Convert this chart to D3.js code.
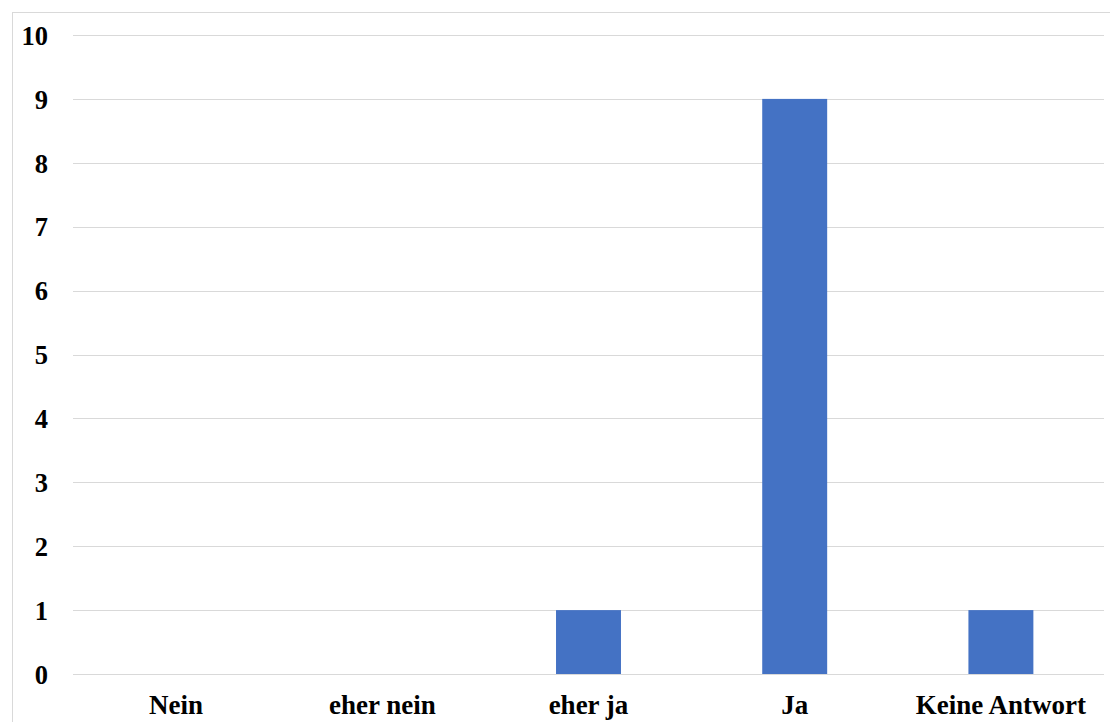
<!DOCTYPE html>
<html>
<head>
<meta charset="utf-8">
<script src="https://cdn.jsdelivr.net/npm/d3@7"></script>
<style>
  body { margin: 0; background: #fff; }
  svg { display: block; }
</style>
</head>
<body>
<svg id="chart"></svg>
<script>
let width = 1110;
let height = 722;

// Daten
let categories = ["Nein", "eher nein", "eher ja", "Ja", "Keine Antwort"];
let values = [0, 0, 1, 9, 1];
let yTicks = [0, 1, 2, 3, 4, 5, 6, 7, 8, 9, 10];

let svg = d3.select("#chart").attr("width", width).attr("height", height);

// Rahmen des Diagrammbereichs
svg.append("rect")
  .attr("x", 12.5)
  .attr("y", 12.5)
  .attr("width", width + 10)
  .attr("height", height + 10)
  .attr("fill", "#fff")
  .attr("stroke", "#d9d9d9")
  .attr("stroke-width", 1);

let plotLeft = 73, plotRight = 1104, plotTop = 35, plotBottom = 674;

let x = d3.scaleBand()
  .domain(categories)
  .range([plotLeft, plotRight])
  .paddingInner(0.685)
  .paddingOuter(0.3425);

let y = d3.scaleLinear()
  .domain([0, 10])
  .range([plotBottom, plotTop]);

// Gitterlinien
svg.append("g")
  .attr("class", "grid")
  .selectAll("line")
  .data(yTicks)
  .enter().append("line")
  .attr("x1", plotLeft)
  .attr("x2", plotRight)
  .attr("y1", d => Math.round(y(d)) + 0.5)
  .attr("y2", d => Math.round(y(d)) + 0.5)
  .attr("stroke", "#d9d9d9")
  .attr("stroke-width", 1);

// Balken
svg.append("g")
  .attr("class", "bars")
  .selectAll("rect")
  .data(values)
  .enter().append("rect")
  .attr("x", (d, i) => x(categories[i]))
  .attr("y", d => y(d))
  .attr("width", x.bandwidth())
  .attr("height", d => y(0) - y(d))
  .attr("fill", "#4472c4");

// y-Achse (nur Beschriftung)
let yAxis = d3.axisLeft(y).tickValues(yTicks).tickSize(0).tickPadding(0);
let gy = svg.append("g")
  .attr("transform", "translate(48,0)")
  .call(yAxis);
gy.select(".domain").remove();
gy.selectAll("text")
  .attr("dy", "0.35em")
  .style("font-family", "'Liberation Serif', 'Times New Roman', serif")
  .style("font-size", "26.5px")
  .style("font-weight", "bold")
  .attr("fill", "#000");

// x-Achse (nur Beschriftung)
let xAxis = d3.axisBottom(x).tickSize(0).tickPadding(0);
let gx = svg.append("g")
  .attr("transform", "translate(0,695)")
  .call(xAxis);
gx.select(".domain").remove();
gx.selectAll("text")
  .attr("dy", "0.71em")
  .style("font-family", "'Liberation Serif', 'Times New Roman', serif")
  .style("font-size", "27px")
  .style("font-weight", "bold")
  .attr("fill", "#000");
</script>
</body>
</html>
